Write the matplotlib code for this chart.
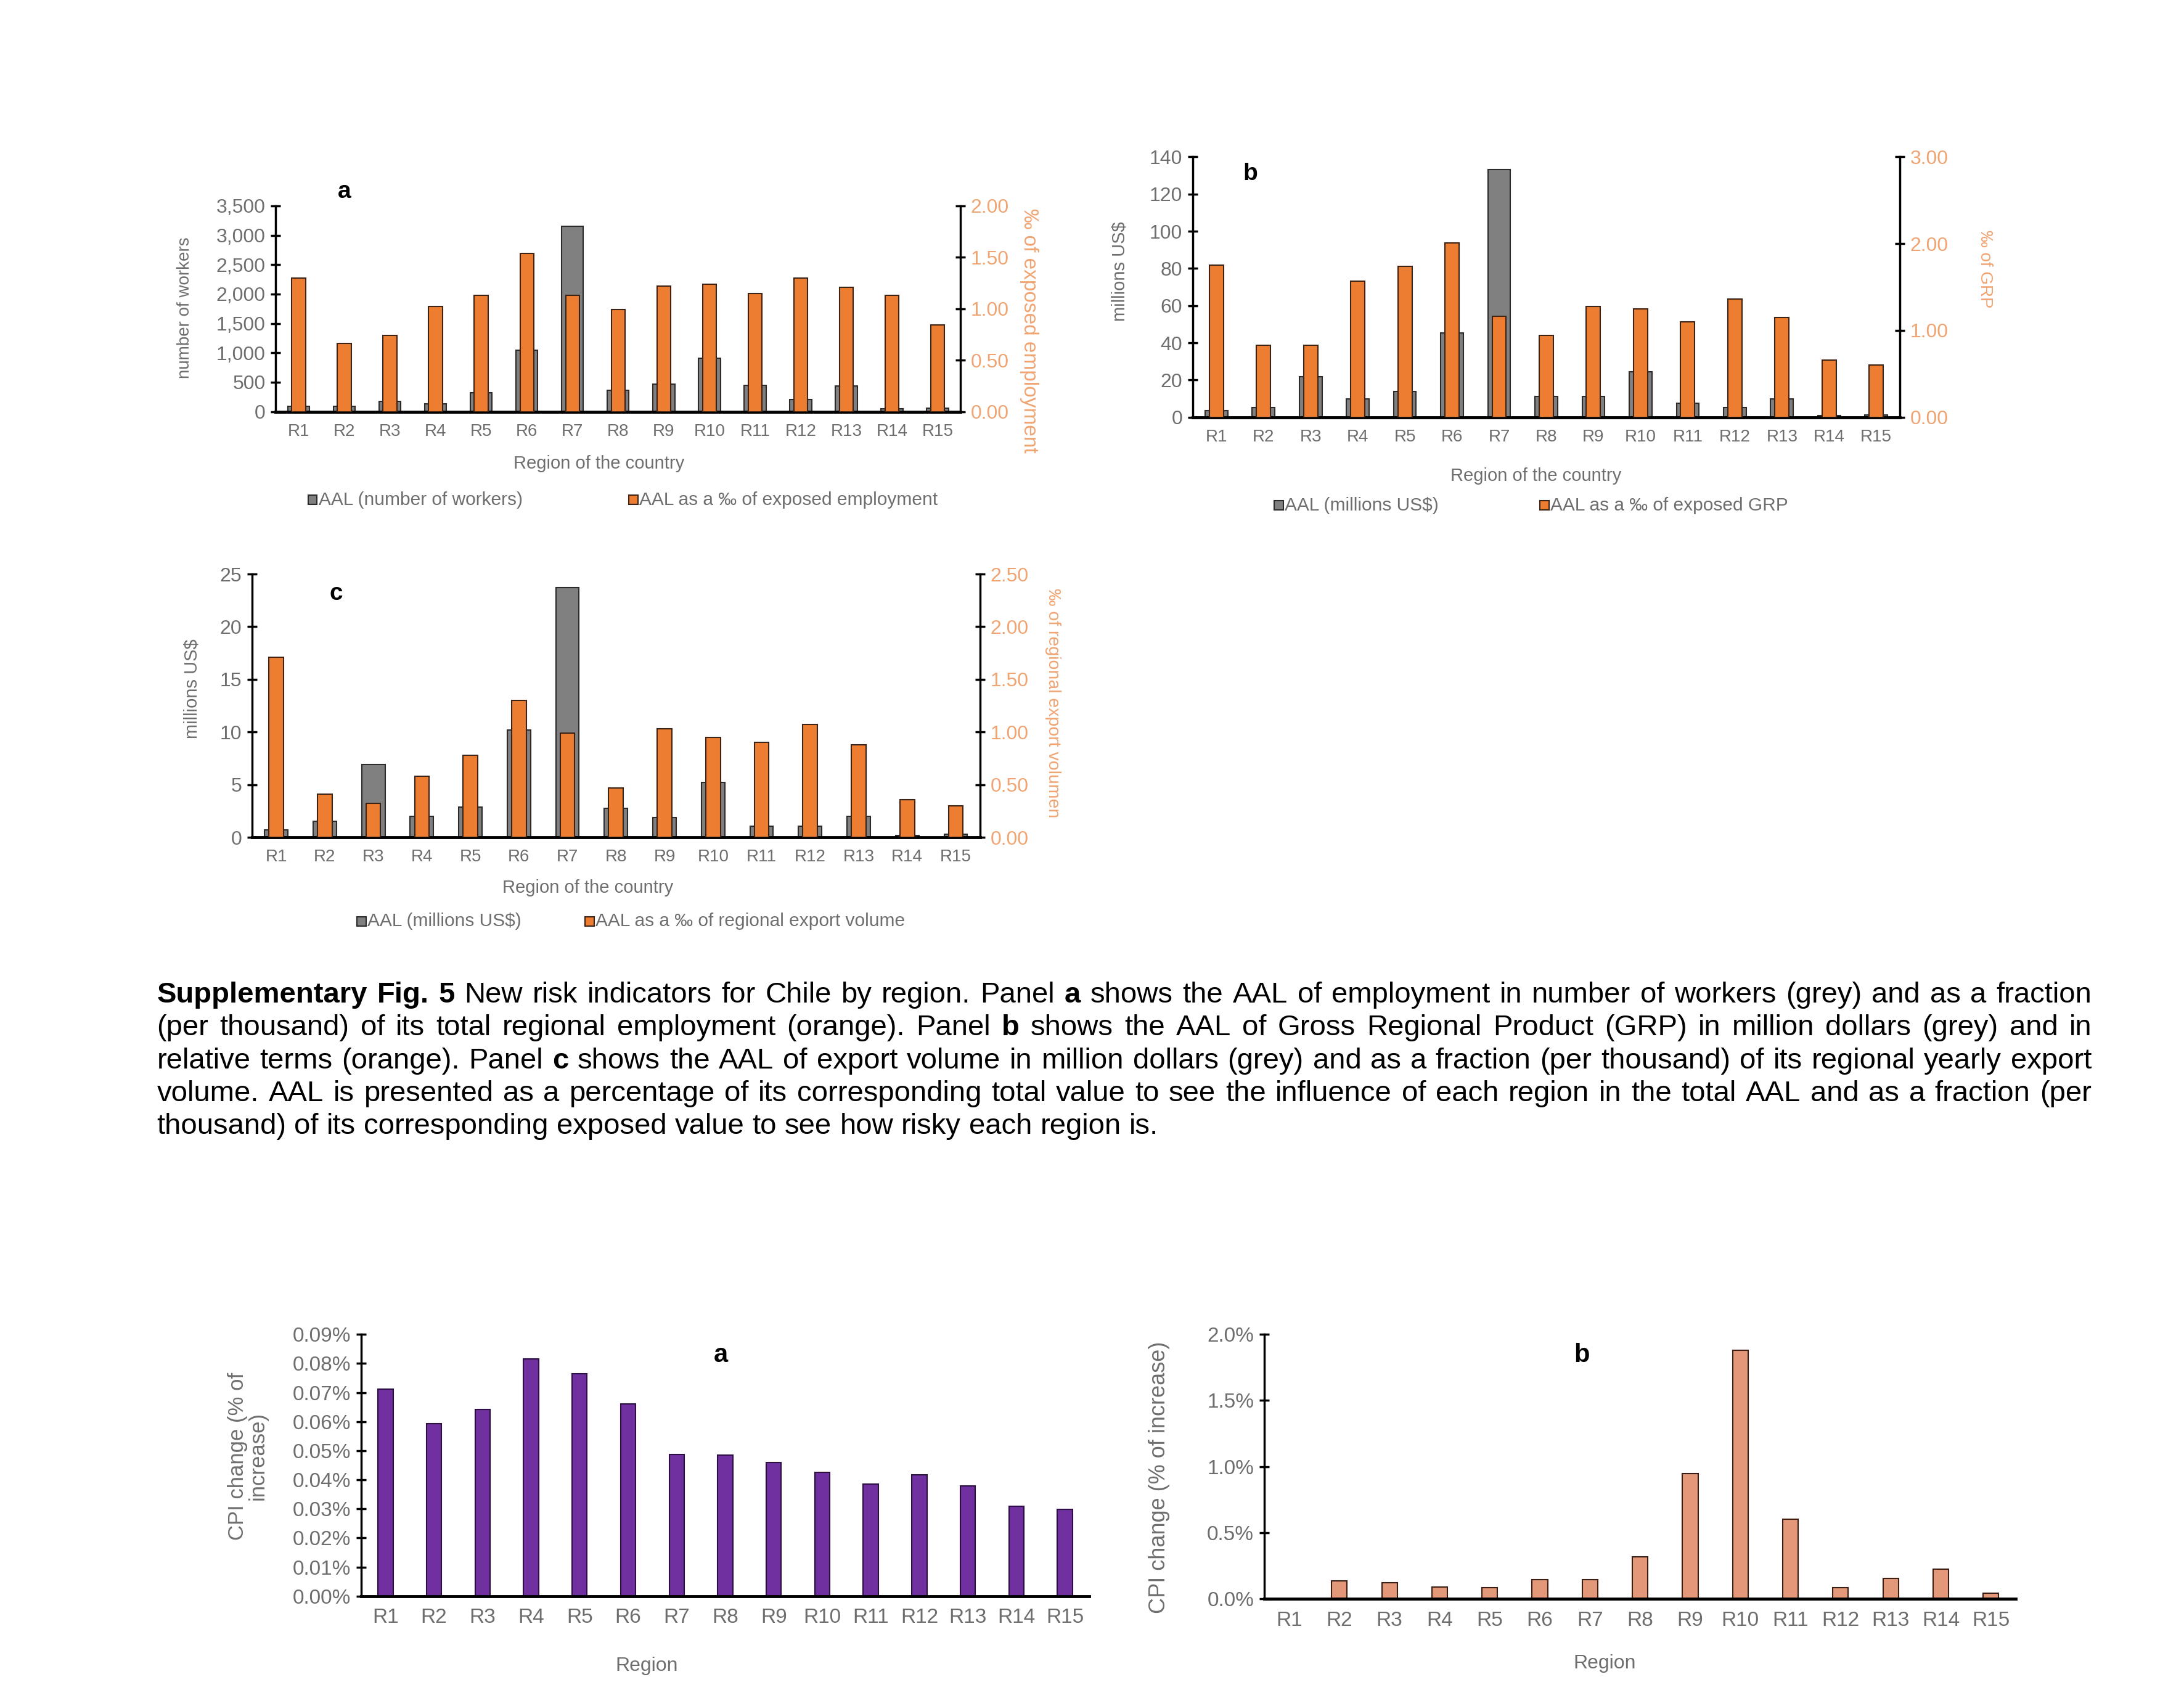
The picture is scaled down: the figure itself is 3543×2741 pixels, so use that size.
import matplotlib.pyplot as plt
from matplotlib.patches import Rectangle

plt.rcParams['font.family'] = ['Liberation Sans', 'DejaVu Sans']

# data
regions = ['R1', 'R2', 'R3', 'R4', 'R5', 'R6', 'R7', 'R8', 'R9', 'R10', 'R11', 'R12', 'R13', 'R14', 'R15']
workers_aal = [95, 95, 170, 130, 320, 1040, 3150, 360, 470, 905, 450, 205, 435, 45, 55]
workers_permil = [1.30, 0.66, 0.74, 1.02, 1.13, 1.54, 1.13, 0.99, 1.22, 1.24, 1.15, 1.30, 1.21, 1.13, 0.84]
grp_aal = [3.4, 5.2, 21.9, 9.9, 13.7, 45.4, 133, 11.2, 11.2, 24.6, 7.5, 5.1, 10.0, 1.0, 1.4]
grp_permil = [1.75, 0.83, 0.83, 1.57, 1.74, 2.01, 1.16, 0.94, 1.28, 1.25, 1.10, 1.36, 1.15, 0.66, 0.60]
export_aal = [0.68, 1.53, 6.9, 1.97, 2.88, 10.2, 23.7, 2.75, 1.9, 5.2, 1.05, 1.05, 2.02, 0.15, 0.3]
export_permil = [1.71, 0.41, 0.32, 0.58, 0.78, 1.30, 0.99, 0.47, 1.03, 0.95, 0.90, 1.07, 0.88, 0.36, 0.30]
cpi_a = [0.0711, 0.0593, 0.0642, 0.0816, 0.0765, 0.0660, 0.0488, 0.0484, 0.0460, 0.0425, 0.0385, 0.0418, 0.0380, 0.0309, 0.0299]
cpi_b = [0.0, 0.138, 0.124, 0.092, 0.087, 0.148, 0.148, 0.317, 0.948, 1.88, 0.603, 0.087, 0.157, 0.225, 0.044]

caption = [
    "*Supplementary *Fig. *5 New risk indicators for Chile by region. Panel *a shows the AAL of employment in number of workers (grey) and as a fraction",
    "(per thousand) of its total regional employment (orange). Panel *b shows the AAL of Gross Regional Product (GRP) in million dollars (grey) and in",
    "relative terms (orange). Panel *c shows the AAL of export volume in million dollars (grey) and as a fraction (per thousand) of its regional yearly export",
    "volume. AAL is presented as a percentage of its corresponding total value to see the influence of each region in the total AAL and as a fraction (per",
    "thousand) of its corresponding exposed value to see how risky each region is.",
]

GREY = '#808080'
ORANGE = '#ED7D31'
TXT = '#6e6e6e'
ORTXT = '#F0A472'

# layout helpers, coordinates measured on a 1560x1207 view of the page
W, H = 1560.0, 1207.0
def box(l, t, r, b):
    return [l / W, 1 - b / H, (r - l) / W, (b - t) / H]
def fx(x):
    return x / W
def fy(y):
    return 1 - y / H

fig = plt.figure(figsize=(35.43, 27.41), dpi=100)
x = list(range(len(regions)))


def style_axis(ax, xfs, yfs):
    ax.set_xlim(-0.5, len(regions) - 0.5)
    ax.set_xticks(x)
    ax.set_xticklabels(regions)
    ax.tick_params(axis='x', length=0, labelsize=xfs, colors=TXT, pad=14)
    ax.tick_params(axis='y', direction='inout', length=12, width=2.5, labelsize=yfs, labelcolor=TXT, color='black', pad=6)
    ax.spines['top'].set_visible(False)
    ax.spines['right'].set_visible(False)
    ax.spines['left'].set_linewidth(2.5)
    ax.spines['bottom'].set_linewidth(3.5)


def twin_panel(rect, grey, orange, ymax, ystep, yfmt, rmax, rstep, letter, lxy):
    ax = fig.add_axes(rect)
    ax.bar(x, grey, width=0.48, color=GREY, edgecolor='#2b2b2b', linewidth=1.5, zorder=2)
    ax.set_ylim(0, ymax)
    ticks = [i * ystep for i in range(int(round(ymax / ystep)) + 1)]
    ax.set_yticks(ticks)
    ax.set_yticklabels([yfmt.format(t) for t in ticks])
    style_axis(ax, 20, 23)
    ax2 = ax.twinx()
    ax2.bar(x, orange, width=0.30, color=ORANGE, edgecolor='#3b2415', linewidth=1.5, zorder=3)
    ax2.set_ylim(0, rmax)
    rt = [i * rstep for i in range(int(round(rmax / rstep)) + 1)]
    ax2.set_yticks(rt)
    ax2.set_yticklabels(['{:.2f}'.format(t) for t in rt])
    ax2.tick_params(axis='y', direction='inout', length=12, width=2.5, labelsize=23, labelcolor=ORTXT, color='black', pad=6)
    for s in ['top', 'left', 'bottom']:
        ax2.spines[s].set_visible(False)
    ax2.spines['right'].set_linewidth(2.5)
    fig.text(fx(lxy[0]), fy(lxy[1]), letter, fontsize=28, fontweight='bold', ha='center', va='center')
    return ax, ax2


def legend_item(xd, yd, color, edge, label):
    s = 6.5
    fig.patches.append(Rectangle((fx(xd), fy(yd) - s / 2 / H), s / W, s / H, transform=fig.transFigure,
                                 facecolor=color, edgecolor=edge, linewidth=1.5))
    fig.text(fx(xd + s + 1), fy(yd), label, fontsize=21.5, color=TXT, ha='left', va='center')


# panel a (top left)
twin_panel(box(197, 147, 686, 294), workers_aal, workers_permil, 3500, 500, '{:,.0f}', 2.0, 0.5, 'a', (246, 137))
fig.text(fx(132), fy(220), 'number of workers', fontsize=20, color=TXT, rotation=90, ha='center', va='center')
fig.text(fx(735), fy(236), '‰ of exposed employment', fontsize=24, color=ORTXT, rotation=270, ha='center', va='center')
fig.text(fx(428), fy(331), 'Region of the country', fontsize=21, color=TXT, ha='center', va='center')
legend_item(220, 357, GREY, '#2b2b2b', 'AAL (number of workers)')
legend_item(449, 357, ORANGE, '#3b2415', 'AAL as a ‰ of exposed employment')

# panel b (top right)
twin_panel(box(852, 112, 1357, 298), grp_aal, grp_permil, 140, 20, '{:.0f}', 3.0, 1.0, 'b', (893, 124))
fig.text(fx(800), fy(194), 'millions US$', fontsize=21, color=TXT, rotation=90, ha='center', va='center')
fig.text(fx(1418), fy(192), '‰ of GRP', fontsize=20, color=ORTXT, rotation=270, ha='center', va='center')
fig.text(fx(1097), fy(340), 'Region of the country', fontsize=21, color=TXT, ha='center', va='center')
legend_item(910, 361, GREY, '#2b2b2b', 'AAL (millions US$)')
legend_item(1100, 361, ORANGE, '#3b2415', 'AAL as a ‰ of exposed GRP')

# panel c (middle left)
twin_panel(box(180, 410, 700, 598), export_aal, export_permil, 25, 5, '{:.0f}', 2.5, 0.5, 'c', (240, 424))
fig.text(fx(137), fy(492), 'millions US$', fontsize=21, color=TXT, rotation=90, ha='center', va='center')
fig.text(fx(752), fy(502), '‰ of regional export volumen', fontsize=20.5, color=ORTXT, rotation=270, ha='center', va='center')
fig.text(fx(420), fy(634), 'Region of the country', fontsize=21, color=TXT, ha='center', va='center')
legend_item(255, 658, GREY, '#2b2b2b', 'AAL (millions US$)')
legend_item(418, 658, ORANGE, '#3b2415', 'AAL as a ‰ of regional export volume')

# caption, justified line by line
cap_fs = 34
left_px, right_px = 112 / W * 3543, 1494 / W * 3543
renderer = fig.canvas.get_renderer()

def measure(s, bold):
    t = fig.text(0, 0, s, fontsize=cap_fs, fontweight='bold' if bold else 'normal')
    w = t.get_window_extent(renderer).width
    t.remove()
    return w

space = measure('a a', False) - measure('aa', False)
baselines = [716, 739.5, 763, 786.5, 810]
for n, line in enumerate(caption):
    words = [(w[1:], True) if w.startswith('*') else (w, False) for w in line.split(' ')]
    widths = [measure(w, b) for w, b in words]
    if n < len(caption) - 1:
        gap = (right_px - left_px - sum(widths)) / (len(words) - 1)
    else:
        gap = space
    xp = left_px
    for (w, b), wd in zip(words, widths):
        fig.text(xp / 3543, fy(baselines[n]), w, fontsize=cap_fs, fontweight='bold' if b else 'normal',
                 ha='left', va='baseline', color='black')
        xp += wd + gap

# bottom panel a (CPI, purple)
axa = fig.add_axes(box(258, 953, 778, 1140))
axa.bar(x, cpi_a, width=0.31, color='#7030A0', edgecolor='#2a0f40', linewidth=1.5, zorder=2)
axa.set_ylim(0, 0.09)
ta = [i * 0.01 for i in range(10)]
axa.set_yticks(ta)
axa.set_yticklabels(['{:.2f}%'.format(t) for t in ta])
style_axis(axa, 24, 24)
fig.text(fx(177), fy(1040), 'CPI change (% of\nincrease)', fontsize=25, color=TXT, rotation=90,
         ha='center', va='center', linespacing=1.0)
fig.text(fx(462), fy(1190), 'Region', fontsize=23, color=TXT, ha='center', va='center')
fig.text(fx(515), fy(968), 'a', fontsize=30, fontweight='bold', ha='center', va='center')

# bottom panel b (CPI, salmon)
axb = fig.add_axes(box(903, 953, 1440, 1142))
axb.bar(x, cpi_b, width=0.31, color='#E3987A', edgecolor='#3a1e14', linewidth=1.5, zorder=2)
axb.set_ylim(0, 2.0)
tb = [i * 0.5 for i in range(5)]
axb.set_yticks(tb)
axb.set_yticklabels(['{:.1f}%'.format(t) for t in tb])
style_axis(axb, 24, 24)
fig.text(fx(828), fy(1055), 'CPI change (% of increase)', fontsize=26, color=TXT, rotation=90,
         ha='center', va='center')
fig.text(fx(1146), fy(1188), 'Region', fontsize=23, color=TXT, ha='center', va='center')
fig.text(fx(1130), fy(968), 'b', fontsize=30, fontweight='bold', ha='center', va='center')

plt.savefig('out.png', dpi=100, facecolor='white')
